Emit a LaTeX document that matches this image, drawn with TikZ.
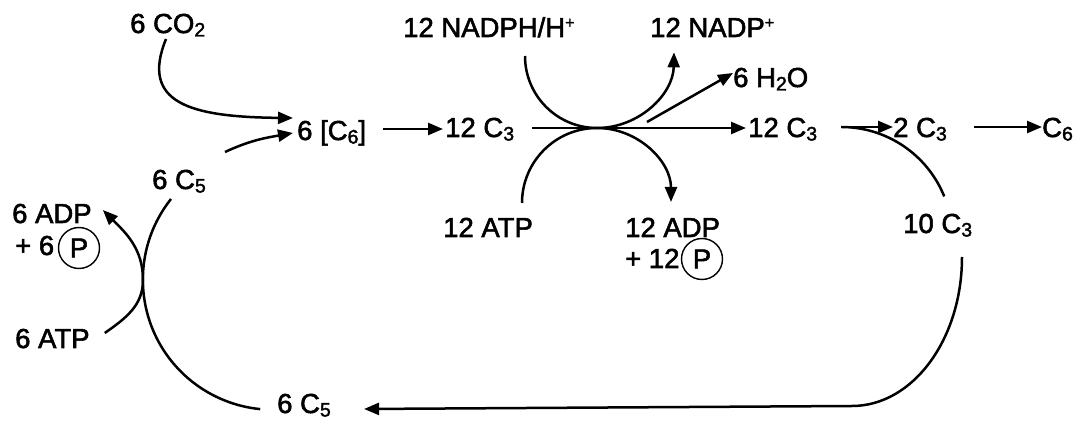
\documentclass[tikz,border=0pt]{standalone}
\usepackage{fontspec}
\setmainfont[RawFeature={embolden=2}]{Liberation Sans}
\usetikzlibrary{arrows.meta}
% lowered and raised small text for chemical formulae
\newcommand\dn[1]{\raisebox{-3.5pt}{\fontsize{19.5}{19.5}\selectfont #1}}
\newcommand\up[1]{\raisebox{9pt}{\fontsize{16}{16}\selectfont #1}}

\begin{document}
\begin{tikzpicture}[x=1pt,y=1pt,
  lbl/.style={inner sep=0pt, anchor=base west, font=\fontsize{27.5}{33}\selectfont},
  pcirc/.style={draw, circle, line width=1.4pt, inner sep=0pt, minimum size=41pt,
                font=\fontsize{27.5}{33}\selectfont},
  flow/.style={line width=2.5pt},
  tip/.style={-{Triangle[length=15pt,width=12pt]}}
]
\useasboundingbox (0,0) rectangle (1088,423);

% substances
\node[lbl] (co2)   at (130,390) {6 CO\dn{2}};
\node[lbl] (c6i)   at (297,283) {6 [C\dn{6}]};
\node[lbl] (c5top) at (152,234) {6 C\dn{5}};
\node[lbl] (c3a)   at (445,286) {12 C\dn{3}};
\node[lbl] (nadph) at (403,386) {12 NADPH/H\up{+}};
\node[lbl] (nadp)  at (650,386) {12 NADP\up{+}};
\node[lbl] (h2o)   at (733,336) {6 H\dn{2}O};
\node[lbl] (c3b)   at (748,286) {12 C\dn{3}};
\node[lbl] (c3c)   at (893,286) {2 C\dn{3}};
\node[lbl] (c6)    at (1042,286) {C\dn{6}};
\node[lbl] (c3d)   at (903,190) {10 C\dn{3}};
\node[lbl] (atp12) at (443,186) {12 ATP};
\node[lbl] (adp12) at (625,186) {12 ADP};
\node[lbl] (pl12)  at (625,155) {+ 12};
\node[pcirc] (p12) at (702,164) {P};
\node[lbl] (adp6)  at (12,200) {6 ADP};
\node[lbl] (pl6)   at (15,168) {+ 6};
\node[pcirc] (p6)  at (79,175) {P};
\node[lbl] (atp6)  at (15,75) {6 ATP};
\node[lbl] (c5bot) at (277,10) {6 C\dn{5}};

\coordinate (h2ostart) at (647,301);
\coordinate (touch) at (143,143);

% carboxylation
\draw[flow,tip] ([shift={(36,-6)}]co2.base west) .. controls (140,320) and (190,306) .. ([shift={(-4,22)}]c6i.base west);
\draw[flow,tip] ([shift={(73,37)}]c5top.base west) to[out=25,in=190] ([shift={(-4,7)}]c6i.base west);
\draw[flow,tip] ([shift={(17,11)}]c6i.base east) -- ([shift={(-2,8)}]c3a.base west);

% reduction
\draw[flow,tip] ([shift={(18,9)}]c3a.base east) -- ([shift={(-2,9)}]c3b.base west);
\draw[flow,tip] ([shift={(122,-19)}]nadph.base west)
  arc[start angle=180,end angle=270,radius=72]
  arc[start angle=270,end angle=359,radius=77];
\draw[flow,tip] ([shift={(79,34)}]atp12.base west)
  arc[start angle=180,end angle=90,radius=75]
  arc[start angle=90,end angle=0,radius=74];
\draw[flow,tip] (h2ostart) -- ([shift={(0,14)}]h2o.base west);

% export and regeneration
\draw[flow,tip] ([shift={(24,10)}]c3b.base east) -- ([shift={(0,10)}]c3c.base west);
\draw[flow] ([shift={(24,10)}]c3b.base east) arc[start angle=90,end angle=22,radius=111];
\draw[flow,tip] ([shift={(27,10)}]c3c.base east) -- ([shift={(0,10)}]c6.base west);
\draw[flow,tip] ([shift={(59,-24)}]c3d.base west)
  arc[start angle=0,end angle=-90,x radius=110,y radius=149]
  -- ([shift={(33,4)}]c5bot.base east);
\draw[flow] ([shift={(19,-10)}]c5top.base west) arc[start angle=141.6,end angle=264.4,radius=130];
\draw[flow,tip] ([shift={(15,15)}]atp6.base east) to[out=35,in=-90] (touch)
  to[out=90,in=-45] ([shift={(11,13)}]adp6.base east);
\end{tikzpicture}
\end{document}
